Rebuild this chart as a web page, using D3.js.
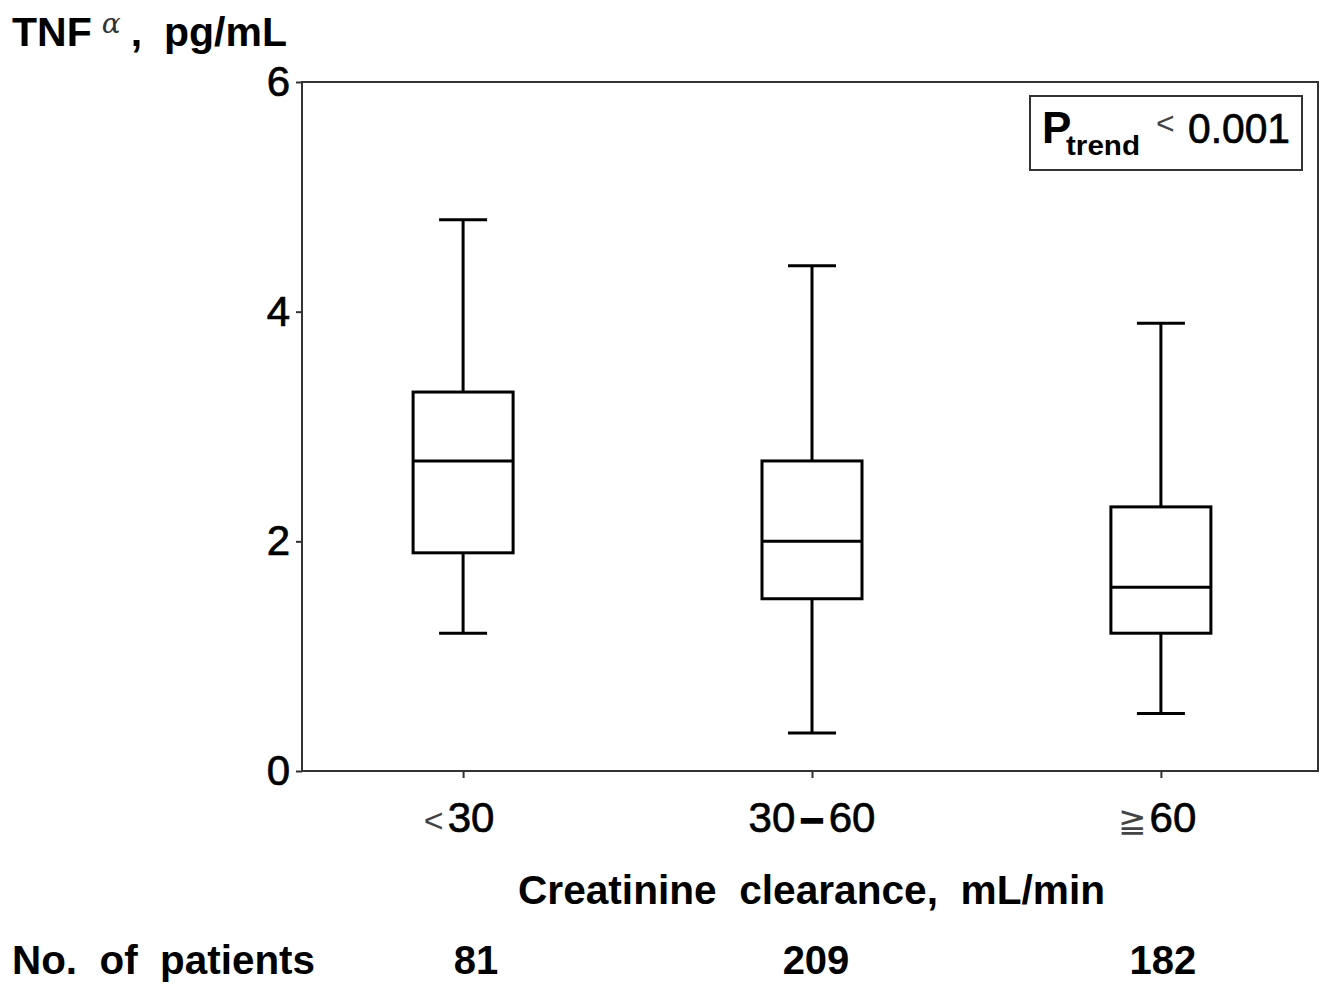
<!DOCTYPE html>
<html>
<head>
<meta charset="utf-8">
<script src="https://cdn.jsdelivr.net/npm/d3@7"></script>
<style>
  body { margin: 0; background: #fff; }
  svg { display: block; font-family: "Liberation Sans", Arial, sans-serif; }
</style>
</head>
<body>
<svg id="chart" width="1324" height="985"></svg>
<script>
// values
const groups = ['lt30', '30-60', 'ge60'];
const groupSymbols = ['<', '', '\u2267'];
const groupNumbers = [['30'], ['30', '60'], ['60']];
const whiskerLow = [1.2, 0.33, 0.5];
const q1 = [1.9, 1.5, 1.2];
const median = [2.7, 2.0, 1.6];
const q3 = [3.3, 2.7, 2.3];
const whiskerHigh = [4.8, 4.4, 3.9];
const patients = [81, 209, 182];
const patientShift = [13, 4, 2];
const yTicks = [0, 2, 4, 6];

const plot = { left: 302, top: 82, right: 1318, bottom: 771 };
const boxHalf = 50;
const capHalf = 24;
const heavy = 0.7; // the scan's digits look a touch heavier than regular

const svg = d3.select('#chart');

const x = d3.scalePoint().domain(groups).range([plot.left + 2, plot.right + 2]).padding(0.456);
const y = d3.scaleLinear().domain([0, 6]).range([plot.bottom, plot.top]);

const rows = groups.map((g, i) => ({
  g,
  lo: whiskerLow[i],
  q1: q1[i],
  med: median[i],
  q3: q3[i],
  hi: whiskerHigh[i],
  n: patients[i],
  shift: patientShift[i],
  sym: groupSymbols[i],
  parts: groupNumbers[i],
}));

// y axis
const yAxis = d3.axisLeft(y).tickValues(yTicks).tickSize(6).tickPadding(6).tickFormat(d3.format('d'));
const gy = svg.append('g').attr('transform', `translate(${plot.left},0)`).call(yAxis);
gy.select('.domain').remove();
gy.selectAll('.tick line').attr('stroke', '#333').attr('stroke-width', 2);
gy.selectAll('.tick text')
  .attr('font-size', 42)
  .attr('fill', '#000')
  .attr('stroke', '#000').attr('stroke-width', heavy)
  .attr('font-family', '"Liberation Sans", Arial, sans-serif');

// x axis
const xAxis = d3.axisBottom(x).tickSize(7).tickFormat('');
const gx = svg.append('g').attr('transform', `translate(0,${plot.bottom})`).call(xAxis);
gx.select('.domain').remove();
gx.selectAll('.tick line').attr('stroke', '#333').attr('stroke-width', 2);

// frame
svg.append('rect')
  .attr('x', plot.left).attr('y', plot.top)
  .attr('width', plot.right - plot.left).attr('height', plot.bottom - plot.top)
  .attr('fill', 'none').attr('stroke', '#333').attr('stroke-width', 2);

// x tick labels
const xl = svg.append('g').selectAll('text').data(rows).join('text')
  .attr('x', (d) => x(d.g))
  .attr('y', 832)
  .attr('text-anchor', 'middle')
  .attr('font-size', 42);
xl.filter((d) => d.sym).append('tspan')
  .attr('font-size', 34).attr('fill', '#444').attr('dx', -4)
  .text((d) => d.sym);
xl.each(function (d) {
  const t = d3.select(this);
  d.parts.forEach((p, k) => {
    if (k > 0) {
      t.append('tspan').attr('font-weight', 'bold').attr('dx', 5)
        .attr('stroke', '#000').attr('stroke-width', 1.5).text('\u2013');
    }
    t.append('tspan')
      .attr('dx', k > 0 ? 5 : d.sym ? 4 : 0)
      .attr('stroke', '#000').attr('stroke-width', heavy)
      .text(p);
  });
});

// boxes
const box = svg.append('g').selectAll('g').data(rows).join('g')
  .attr('stroke', '#000').attr('stroke-width', 3).attr('fill', 'none');
box.append('line')
  .attr('x1', (d) => x(d.g)).attr('x2', (d) => x(d.g))
  .attr('y1', (d) => y(d.q3)).attr('y2', (d) => y(d.hi));
box.append('line')
  .attr('x1', (d) => x(d.g)).attr('x2', (d) => x(d.g))
  .attr('y1', (d) => y(d.q1)).attr('y2', (d) => y(d.lo));
box.append('line')
  .attr('x1', (d) => x(d.g) - capHalf).attr('x2', (d) => x(d.g) + capHalf)
  .attr('y1', (d) => y(d.hi)).attr('y2', (d) => y(d.hi));
box.append('line')
  .attr('x1', (d) => x(d.g) - capHalf).attr('x2', (d) => x(d.g) + capHalf)
  .attr('y1', (d) => y(d.lo)).attr('y2', (d) => y(d.lo));
box.append('rect')
  .attr('x', (d) => x(d.g) - boxHalf).attr('width', boxHalf * 2)
  .attr('y', (d) => y(d.q3)).attr('height', (d) => y(d.q1) - y(d.q3))
  .attr('fill', '#fff');
box.append('line')
  .attr('x1', (d) => x(d.g) - boxHalf).attr('x2', (d) => x(d.g) + boxHalf)
  .attr('y1', (d) => y(d.med)).attr('y2', (d) => y(d.med));

// y title
const yt = svg.append('text').attr('x', 12).attr('y', 46)
  .attr('font-size', 41).attr('font-weight', 'bold');
yt.append('tspan').text('TNF');
yt.append('tspan').attr('dx', 10).attr('dy', -13).attr('font-size', 28)
  .attr('font-weight', 'normal').attr('font-style', 'italic').attr('fill', '#333')
  .attr('font-family', '"DejaVu Serif", serif').text('\u03b1');
yt.append('tspan').attr('dx', 10).attr('dy', 13).text(',');
yt.append('tspan').attr('dx', 22).text('pg/mL');

// x title
svg.append('text').attr('x', 518).attr('y', 904)
  .attr('font-size', 40).attr('font-weight', 'bold')
  .attr('textLength', 587).attr('lengthAdjust', 'spacingAndGlyphs')
  .text('Creatinine\u00a0 clearance,\u00a0 mL/min');

// patient counts
svg.append('text').attr('x', 12).attr('y', 974)
  .attr('font-size', 40).attr('font-weight', 'bold')
  .attr('textLength', 303).attr('lengthAdjust', 'spacingAndGlyphs')
  .text('No.\u00a0 of\u00a0 patients');
svg.append('g').selectAll('text').data(rows).join('text')
  .attr('x', (d) => x(d.g) + d.shift)
  .attr('y', 974)
  .attr('text-anchor', 'middle')
  .attr('font-size', 40).attr('font-weight', 'bold')
  .text((d) => d.n);

// p-trend legend
const lg = svg.append('g');
lg.append('rect').attr('x', 1030).attr('y', 96).attr('width', 272).attr('height', 74)
  .attr('fill', '#fff').attr('stroke', '#333').attr('stroke-width', 2);
lg.append('text').attr('x', 1042).attr('y', 143)
  .attr('font-size', 44).attr('font-weight', 'bold').text('P');
lg.append('text').attr('x', 1066).attr('y', 155)
  .attr('font-size', 28).attr('font-weight', 'bold')
  .attr('textLength', 74).attr('lengthAdjust', 'spacingAndGlyphs').text('trend');
lg.append('text').attr('x', 1156).attr('y', 134)
  .attr('font-size', 32).attr('fill', '#444').text('<');
lg.append('text').attr('x', 1188).attr('y', 143)
  .attr('font-size', 42).attr('stroke', '#000').attr('stroke-width', heavy)
  .attr('textLength', 102).attr('lengthAdjust', 'spacingAndGlyphs').text('0.001');
</script>
</body>
</html>
